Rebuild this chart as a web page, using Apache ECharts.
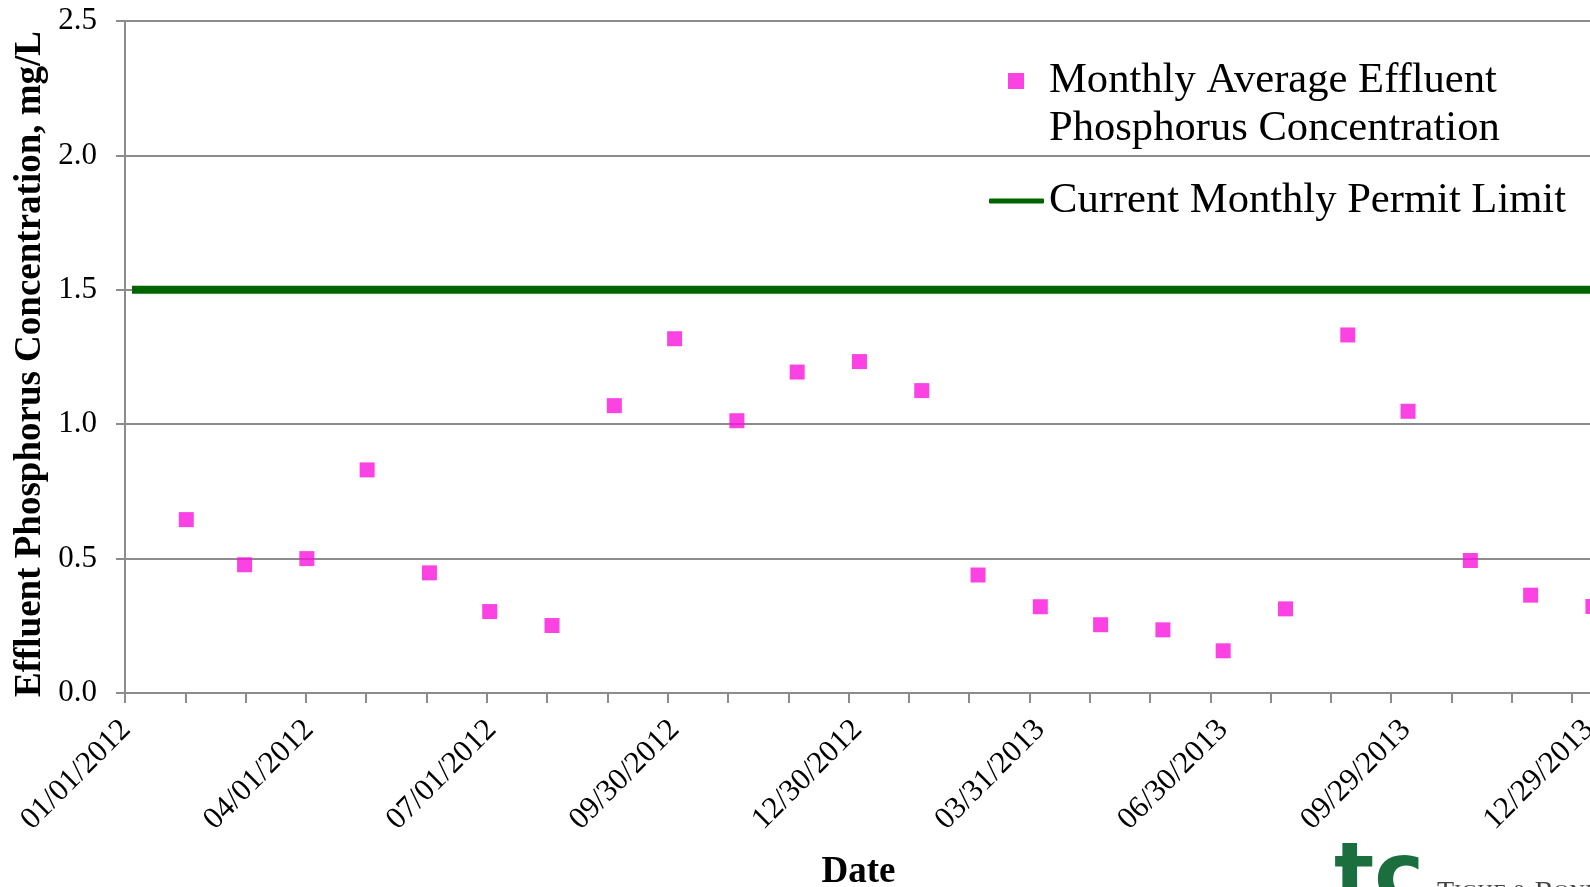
<!DOCTYPE html>
<html>
<head>
<meta charset="utf-8">
<script src="https://cdn.jsdelivr.net/npm/echarts@6/dist/echarts.min.js"></script>
<style>
html,body{margin:0;padding:0;background:#fff;}
#chart{width:1590px;height:887px;}
</style>
</head>
<body>
<div id="chart"></div>
<script>
// X values are days since 01/01/2012 (month-end sample dates)
const sampleDays = [30, 59, 90, 120, 151, 181, 212, 243, 273, 304, 334, 365, 396, 424, 455, 485, 516, 546, 577, 608, 638, 669, 699, 730];
const phosphorus = [0.645, 0.477, 0.500, 0.830, 0.447, 0.303, 0.251, 1.069, 1.318, 1.013, 1.194, 1.233, 1.125, 0.439, 0.321, 0.254, 0.235, 0.157, 0.313, 1.332, 1.048, 0.493, 0.364, 0.322];
const limitDays = [3, 738];
const limitValues = [1.5, 1.5];
const yTicks = [0, 0.5, 1.0, 1.5, 2.0, 2.5];
const xLabelStep = 91;      // date label every 91 days
const xTickStep = 91 / 3;   // tick mark every ~30.33 days
const xMax = 738;

const SERIES_PTS = 'Monthly Average Effluent Phosphorus Concentration';
const SERIES_LIM = 'Current Monthly Permit Limit';
const serif = "'Liberation Serif', 'Times New Roman', serif";
const base = Date.UTC(2012, 0, 1);
function fmtDate(v) {
  const d = new Date(base + Math.round(v) * 86400000);
  const mm = String(d.getUTCMonth() + 1).padStart(2, '0');
  const dd = String(d.getUTCDate()).padStart(2, '0');
  return mm + '/' + dd + '/' + d.getUTCFullYear();
}

const chart = echarts.init(document.getElementById('chart'));
const grey = '#8c8c8c';
chart.setOption({
  animation: false,
  backgroundColor: '#ffffff',
  grid: [
    // frame, ticks, gridlines
    { left: 125, right: -2, top: 21, bottom: 194, containLabel: false, outerBoundsMode: 'none' },
    // data marks and date labels (slightly wider date scale, as in the picture)
    { left: 126, right: -19, top: 21, bottom: 194, containLabel: false, outerBoundsMode: 'none' }
  ],
  legend: [
    {
      data: [{ name: SERIES_PTS, icon: 'rect' }],
      formatter: () => ' \nMonthly Average Effluent\nPhosphorus Concentration',
      left: 1008, top: 9, padding: 0,
      itemWidth: 16, itemHeight: 16,
      selectedMode: false,
      textStyle: { fontFamily: serif, fontSize: 42.6, lineHeight: 48, color: '#000', padding: [0, 0, 0, 20] }
    },
    {
      data: [{ name: SERIES_LIM, icon: 'roundRect' }],
      left: 989, top: 177, padding: 0,
      itemWidth: 55, itemHeight: 5,
      selectedMode: false,
      textStyle: { fontFamily: serif, fontSize: 42.6, lineHeight: 48, color: '#000' }
    }
  ],
  xAxis: [
    {
      gridIndex: 0,
      type: 'value',
      min: 0, max: xMax, interval: xTickStep,
      name: 'Date',
      nameLocation: 'middle',
      nameGap: 161,
      nameMoveOverlap: false,
      nameTextStyle: { fontFamily: serif, fontSize: 37, fontWeight: 'bold', color: '#000' },
      axisLine: { show: true, lineStyle: { color: grey, width: 2 } },
      axisTick: { show: true, length: 10, lineStyle: { color: grey, width: 2 } },
      splitLine: { show: false },
      axisLabel: { show: false }
    },
    {
      gridIndex: 1,
      type: 'value',
      min: 0, max: xMax, interval: xLabelStep,
      axisLine: { show: false },
      axisTick: { show: false },
      splitLine: { show: false },
      axisLabel: {
        rotate: 45, margin: 32,
        fontFamily: serif, fontSize: 31, color: '#000',
        showMaxLabel: false,
        formatter: v => fmtDate(v)
      }
    }
  ],
  yAxis: [
    {
      gridIndex: 0,
      type: 'value',
      min: yTicks[0], max: yTicks[yTicks.length - 1], interval: 0.5,
      name: 'Effluent Phosphorus Concentration, mg/L',
      nameLocation: 'middle',
      nameGap: 76,
      nameRotate: 90,
      nameMoveOverlap: false,
      nameTextStyle: { fontFamily: serif, fontSize: 37, fontWeight: 'bold', color: '#000', padding: [0, 14, 0, 0] },
      axisLine: { show: true, lineStyle: { color: grey, width: 2 } },
      axisTick: { show: true, length: 9, lineStyle: { color: grey, width: 2 } },
      splitLine: { show: true, lineStyle: { color: grey, width: 2 } },
      axisLabel: {
        margin: 28, fontFamily: serif, fontSize: 31, color: '#000',
        formatter: v => v.toFixed(1)
      }
    },
    {
      gridIndex: 1,
      type: 'value',
      min: yTicks[0], max: yTicks[yTicks.length - 1], interval: 0.5,
      show: false
    }
  ],
  series: [
    {
      name: SERIES_PTS,
      type: 'scatter',
      xAxisIndex: 1, yAxisIndex: 1,
      symbol: 'rect',
      symbolSize: 15,
      itemStyle: { color: '#FA14DC' },
      data: sampleDays.map((d, i) => [d, phosphorus[i]]),
      z: 3
    },
    {
      name: SERIES_LIM,
      type: 'line',
      xAxisIndex: 1, yAxisIndex: 1,
      showSymbol: false,
      symbol: 'none',
      lineStyle: { color: '#006400', width: 8 },
      itemStyle: { color: '#006400' },
      data: limitDays.map((d, i) => [d, limitValues[i]]),
      z: 2
    }
  ],
  graphic: [
    {
      type: 'text', left: 1334, top: 838,
      style: { text: 'tc', fontFamily: "'DejaVu Sans', sans-serif", fontWeight: 'bold', fontSize: 84, fill: '#1B6F3F' }
    },
    {
      type: 'text', left: 1437, top: 879,
      style: {
        text: '{a|T}{b|IGHE & }{a|B}{b|OND}',
        rich: {
          a: { fontFamily: serif, fontSize: 28, fill: '#444' },
          b: { fontFamily: serif, fontSize: 22, fill: '#444' }
        }
      }
    }
  ]
});
</script>
</body>
</html>
